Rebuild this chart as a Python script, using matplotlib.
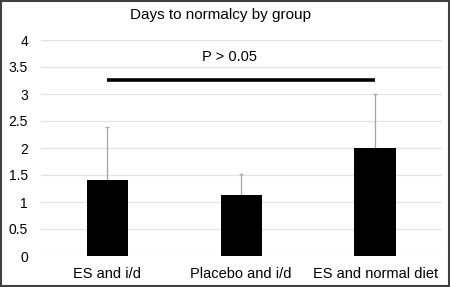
import numpy as np
import matplotlib.pyplot as plt
import matplotlib.patches as patches

plt.rcParams['font.family'] = ['Liberation Sans', 'DejaVu Sans']

groups = ['ES and i/d', 'Placebo and i/d', 'ES and normal diet']
days = [1.40, 1.135, 2.0]
err_up = [0.98, 0.39, 1.0]
yticks = [0, 0.5, 1, 1.5, 2, 2.5, 3, 3.5, 4]
ytick_labels = ['0', '0.5', '1', '1.5', '2', '2.5', '3', '3.5', '4']
sig_y = 3.26
sig_label = 'P > 0.05'

fig = plt.figure(figsize=(4.5, 2.87), dpi=100)
ax = fig.add_axes([40.5/450, 1-256/287, (442-40.5)/450, (256-40)/287])

x = np.arange(len(groups))
ax.bar(x, days, width=0.31, color='black', zorder=3)
ax.errorbar(x, days, yerr=[np.zeros(len(err_up)), err_up], fmt='none',
            ecolor='#a6a6a6', elinewidth=0.9, capsize=1.5, capthick=0.9, zorder=2)

ax.set_xlim(-0.5, len(groups)-0.5)
ax.set_ylim(0, 4)
ax.set_yticks(yticks)
ax.set_yticklabels(ytick_labels, fontsize=10)
ax.set_xticks(x)
ax.set_xticklabels(groups, fontsize=10.5)
ax.tick_params(axis='x', length=0, pad=8)
ax.tick_params(axis='y', length=0, pad=9)
ax.grid(axis='y', color='#e3e3e3', linewidth=0.9, zorder=0)
ax.set_axisbelow(True)
for s in ax.spines.values():
    s.set_visible(False)

ax.plot([x[0], x[-1]], [sig_y, sig_y], color='black', linewidth=2.6, solid_capstyle='butt', zorder=4)
ax.text(0.91, 3.69, sig_label, ha='center', va='center', fontsize=10.5)

fig.text(0.489, 1-15/287, 'Days to normalcy by group', ha='center', va='center', fontsize=11)

fig.patches.append(patches.Rectangle((0.002, 0.003), 0.995, 0.994, transform=fig.transFigure,
                                     fill=False, edgecolor='#404040', linewidth=1.5))

fig.savefig('out.png', dpi=100)
